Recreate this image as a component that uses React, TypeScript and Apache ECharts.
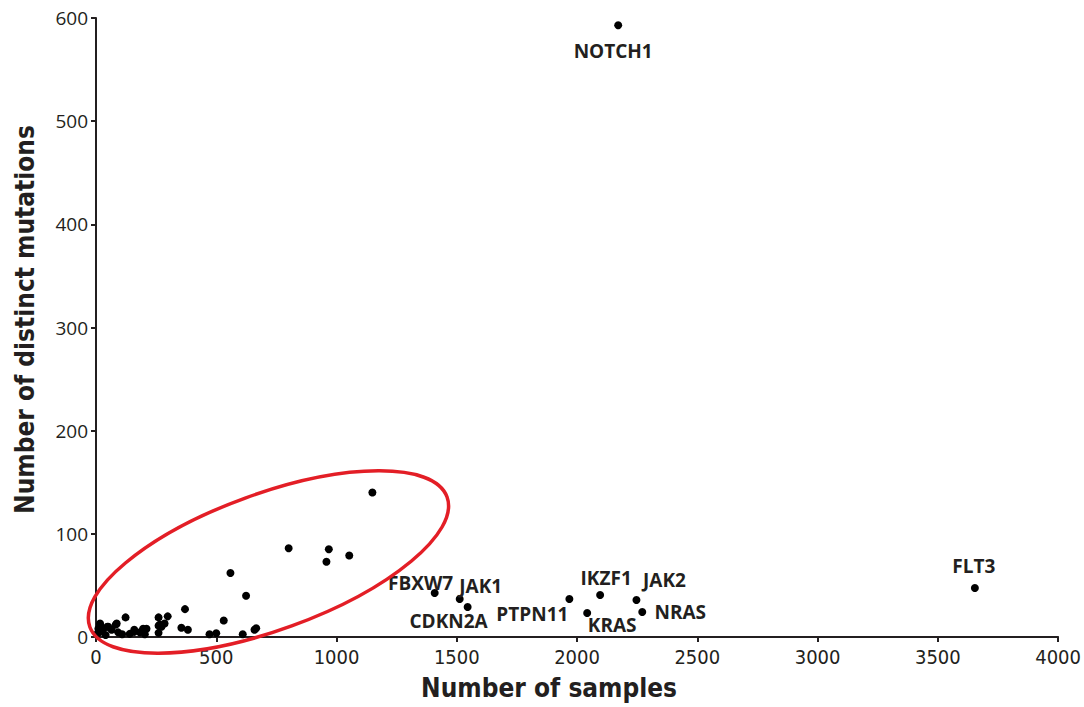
import React, { useEffect, useRef } from "react";
import * as echarts from "echarts";

// Unlabelled genes: number of samples vs number of distinct mutations
const otherSamples = [
  1149, 801, 968, 958, 1053, 559, 624, 370, 531, 123, 260, 298, 285, 265, 272, 260,
  196, 159, 159, 196, 210, 82, 86, 47, 17, 17, 30, 51, 65, 92, 109, 17, 10, 182, 203,
  355, 382, 472, 500, 610, 659, 666, 5, 40, 140, 260,
];
const otherMutations = [
  140, 86, 85, 73, 79, 62, 40, 27, 16, 19, 19, 20, 13, 12, 10, 11,
  8, 5, 7, 7, 8, 12, 13, 10, 13, 12, 8, 10, 7, 4.5, 2.6, 5, 8, 4.5, 2.6,
  9, 7, 2.6, 3.6, 2.6, 7, 8.5, 3, 2, 3, 4,
];

// Labelled genes
const geneNames = ["NOTCH1", "FLT3", "FBXW7", "JAK1", "CDKN2A", "PTPN11", "IKZF1", "KRAS", "JAK2", "NRAS"];
const geneSamples = [2171, 3654, 1408, 1512, 1545, 1968, 2096, 2042, 2247, 2271];
const geneMutations = [593, 47.5, 42.7, 36.8, 29, 36.8, 40.7, 23.3, 35.9, 24.2];
const labelOffsets: [number, number][] = [
  [-5, 26], [-1, -22], [-14, -10], [21, -13], [-19, 14], [-37, 15], [6, -17], [25, 12], [28, -20], [38, 0],
];

const xTicks = { min: 0, max: 4000, interval: 500 };
const yTicks = { min: 0, max: 600, interval: 100 };

const INK = "#231f20";
const CONDENSED = "'DejaVu Sans Condensed', 'Liberation Sans Narrow', 'Open Sans', sans-serif";

export default function App() {
  const ref = useRef<HTMLDivElement>(null);
  useEffect(() => {
    if (!ref.current) return;
    const chart = echarts.init(ref.current, null, { renderer: "svg" });
    const otherData = otherSamples.map((x, i) => [x, otherMutations[i]]);
    const geneData = geneNames.map((n, i) => ({
      name: n,
      value: [geneSamples[i], geneMutations[i]],
      label: {
        show: true,
        position: "inside",
        offset: labelOffsets[i],
        formatter: "{b}",
        fontFamily: "'Open Sans', sans-serif",
        fontWeight: "bold",
        fontSize: 19,
        color: INK,
      },
    }));
    chart.setOption({
      animation: false,
      grid: { left: 96, right: 22, top: 18, bottom: 70, containLabel: false },
      xAxis: {
        type: "value",
        ...xTicks,
        name: "Number of samples",
        nameLocation: "middle",
        nameGap: 38,
        nameTextStyle: {
          fontFamily: CONDENSED,
          fontWeight: "bold",
          fontSize: 26,
          color: INK,
          padding: [0, 56, 0, 0],
        },
        axisLine: { show: true, lineStyle: { color: INK, width: 2 } },
        axisTick: { show: true, length: 5, lineStyle: { color: INK, width: 2 } },
        splitLine: { show: false },
        axisLabel: {
          fontFamily: CONDENSED,
          fontSize: 20,
          color: INK,
          margin: 10,
          formatter: (v: number) => String(v),
        },
      },
      yAxis: {
        type: "value",
        ...yTicks,
        name: "Number of distinct mutations",
        nameLocation: "middle",
        nameGap: 58,
        nameTextStyle: {
          fontFamily: CONDENSED,
          fontWeight: "bold",
          fontSize: 26,
          color: INK,
          padding: [0, 0, 0, 16],
        },
        axisLine: { show: true, lineStyle: { color: INK, width: 2 } },
        axisTick: { show: true, length: 5, lineStyle: { color: INK, width: 2 } },
        splitLine: { show: false },
        axisLabel: {
          fontFamily: "'Open Sans', sans-serif",
          fontSize: 19,
          color: INK,
          margin: 8,
          formatter: (v: number) => String(v),
        },
      },
      series: [
        {
          type: "scatter",
          symbolSize: 8,
          itemStyle: { color: "#000", opacity: 1 },
          data: otherData,
          z: 3,
        },
        {
          type: "scatter",
          symbolSize: 8,
          itemStyle: { color: "#000", opacity: 1 },
          data: geneData,
          z: 3,
        },
      ],
    });
    const c = chart.convertToPixel({ gridIndex: 0 }, [717, 72.7]) as number[];
    chart.setOption({
      graphic: [
        {
          type: "ellipse",
          x: c[0],
          y: c[1],
          rotation: (20 * Math.PI) / 180,
          shape: { cx: 0, cy: 0, rx: 190, ry: 68 },
          style: { fill: "none", stroke: "#e31e26", lineWidth: 3.5 },
          z: 10,
        },
      ],
    });
    return () => chart.dispose();
  }, []);
  return (
    <div
      ref={ref}
      style={{ position: "fixed", left: 0, top: 0, width: 1084, height: 707, background: "#fff" }}
    />
  );
}
